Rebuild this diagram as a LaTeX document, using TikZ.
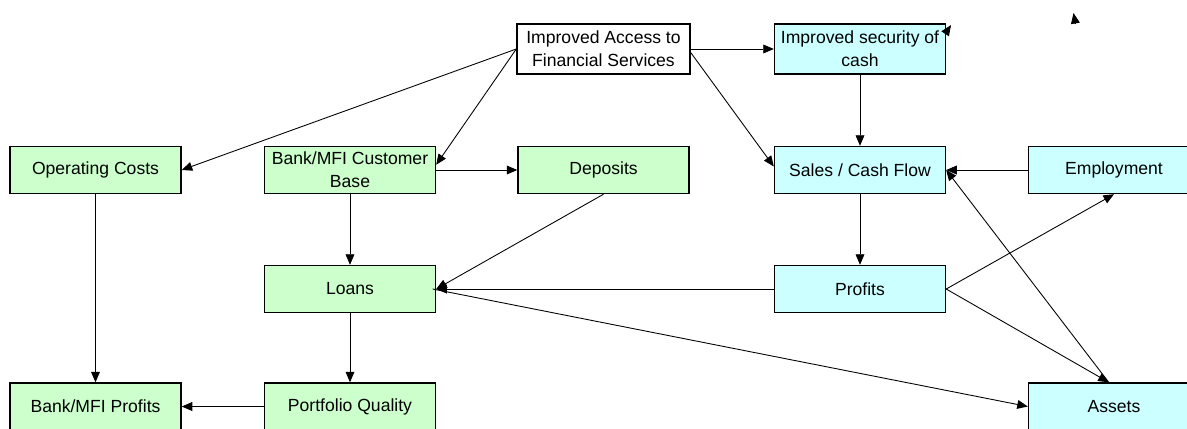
\documentclass[tikz,border=0pt]{standalone}
\usepackage{fontspec}
\setmainfont{Liberation Sans}
\usetikzlibrary{arrows.meta, positioning}
\definecolor{lgreen}{HTML}{CCFFCC}
\definecolor{lcyan}{HTML}{CCFFFF}
\tikzset{
	box/.style={draw, line width=0.8pt, align=center, minimum width=3.42cm, minimum height=0.94cm, inner sep=1pt, font=\fontsize{10}{13}\selectfont},
	gbox/.style={box, fill=lgreen},
	cbox/.style={box, fill=lcyan},
	arr/.style={-{Triangle[length=6pt,width=5pt]}, line width=0.5pt}
}

\begin{document}
\begin{tikzpicture}
		\useasboundingbox (0,0) rectangle (23.74,-8.56);
		% Blocks
		\node[box, fill=white, minimum width=3.46cm, minimum height=1cm] (A) at (12.07,-0.98) {Improved Access to\\Financial Services};
		\node[cbox, minimum height=1cm] (S) at (17.2,-0.98) {Improved security of\\cash};

		\node[gbox] (OC) at (1.91,-3.4) {Operating Costs};
		\node[gbox] (CB) at (7.0,-3.4) {Bank/MFI Customer\\Base};
		\node[gbox] (D) at (12.07,-3.4) {Deposits};
		\node[cbox] (SC) at (17.2,-3.4) {Sales / Cash Flow};
		\node[cbox] (E) at (22.28,-3.4) {Employment};

		\node[gbox] (L) at (7.0,-5.78) {Loans};
		\node[cbox] (P) at (17.2,-5.78) {Profits};

		\node[gbox] (BP) at (1.91,-8.13) {Bank/MFI Profits};
		\node[gbox] (PQ) at (7.0,-8.13) {Portfolio Quality};
		\node[cbox] (AS) at (22.28,-8.13) {Assets};

		% loose arrow heads
		\coordinate (t1s) at (18.9,-0.68);
		\coordinate (t1) at (19.02,-0.5);
		\coordinate (t2s) at (21.51,-0.48);
		\coordinate (t2) at (21.47,-0.26);

		% Arrows
		\draw[arr] (A.west) -- (OC.east);
		\draw[arr] (A.west) -- ([yshift=3pt]CB.east);
		\draw[arr] (A.east) -- (S.west);
		\draw[arr] ([yshift=-2pt]A.east) -- ([yshift=2pt]SC.west);
		\draw[arr] (S.south) -- (SC.north);
		\draw[arr] (CB.east) -- (D.west);
		\draw[arr] (CB.south) -- (L.north);
		\draw[arr] (D.south) -- (L.east);
		\draw[arr] (P.west) -- (L.east);
		\draw[arr] ([xshift=-2pt]L.east) -- (AS.west);
		\draw[arr] (L.south) -- (PQ.north);
		\draw[arr] (PQ.west) -- (BP.east);
		\draw[arr] (OC.south) -- (BP.north);
		\draw[arr] (SC.south) -- (P.north);
		\draw[arr] (E.west) -- (SC.east);
		\draw[arr] (P.east) -- (E.south);
		\draw[arr] (P.east) -- ([xshift=-3pt]AS.north);
		\draw[arr] ([xshift=-3pt]AS.north) -- (SC.east);
		\draw[arr] (t1s) -- (t1);
		\draw[arr] (t2s) -- (t2);
	\end{tikzpicture}
\end{document}
